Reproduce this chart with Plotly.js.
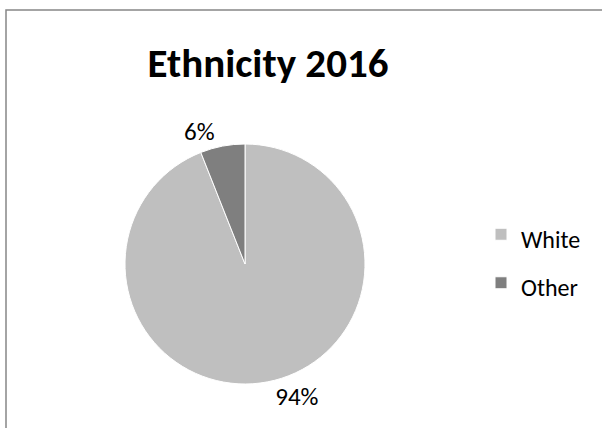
<!DOCTYPE html>
<html>
<head>
<meta charset="utf-8">
<script src="https://cdn.plot.ly/plotly-3.0.1.min.js"></script>
<style>html,body{margin:0;padding:0;background:#fff;}#chart{width:602px;height:428px;}</style>
</head>
<body>
<div id="chart"></div>
<script>
const categories = ["White", "Other"];
const percentages = [94, 6];
const sliceColors = ["#BFBFBF", "#7F7F7F"];
const chartTitle = "Ethnicity 2016";

const W = 602, H = 428;
const font = "Carlito, Calibri, 'Open Sans', 'Liberation Sans', sans-serif";

const trace = {
  type: "pie",
  labels: categories.map(c => '<span style="font-size:24px">' + c + '</span>'),
  values: percentages,
  sort: false,
  direction: "clockwise",
  rotation: 0,
  marker: {colors: sliceColors, line: {color: "#ffffff", width: 1}},
  textinfo: "percent",
  texttemplate: "%{value}%",
  textposition: "outside",
  outsidetextfont: {size: 25, color: "#000", family: font},
  textfont: {size: 25, color: "#000", family: font},
  hoverinfo: "label+percent",
  domain: {x: [125 / W, 365 / W], y: [1 - 384 / H, 1 - 144 / H]},
  automargin: false
};

const layout = {
  width: W, height: H,
  margin: {l: 0, r: 0, t: 0, b: 0},
  paper_bgcolor: "#fff",
  font: {family: font, color: "#000"},
  title: {
    text: "<b>" + chartTitle + "</b>",
    font: {size: 41, family: font, color: "#000"},
    x: 268 / W, xanchor: "center", xref: "paper",
    y: 1 - 63 / H, yanchor: "middle", yref: "paper"
  },
  showlegend: true,
  legend: {
    x: 481 / W, xanchor: "left",
    y: 1 - 205 / H, yanchor: "top",
    font: {size: 35, family: font, color: "#000"},
    bgcolor: "rgba(0,0,0,0)"
  },
  shapes: [{
    type: "rect", xref: "paper", yref: "paper",
    x0: 6 / W, x1: 1.05, y0: -0.05, y1: 1 - 10 / H,
    line: {color: "#868686", width: 1.5}
  }]
};

Plotly.newPlot("chart", [trace], layout, {displayModeBar: false, staticPlot: true});
</script>
</body>
</html>
